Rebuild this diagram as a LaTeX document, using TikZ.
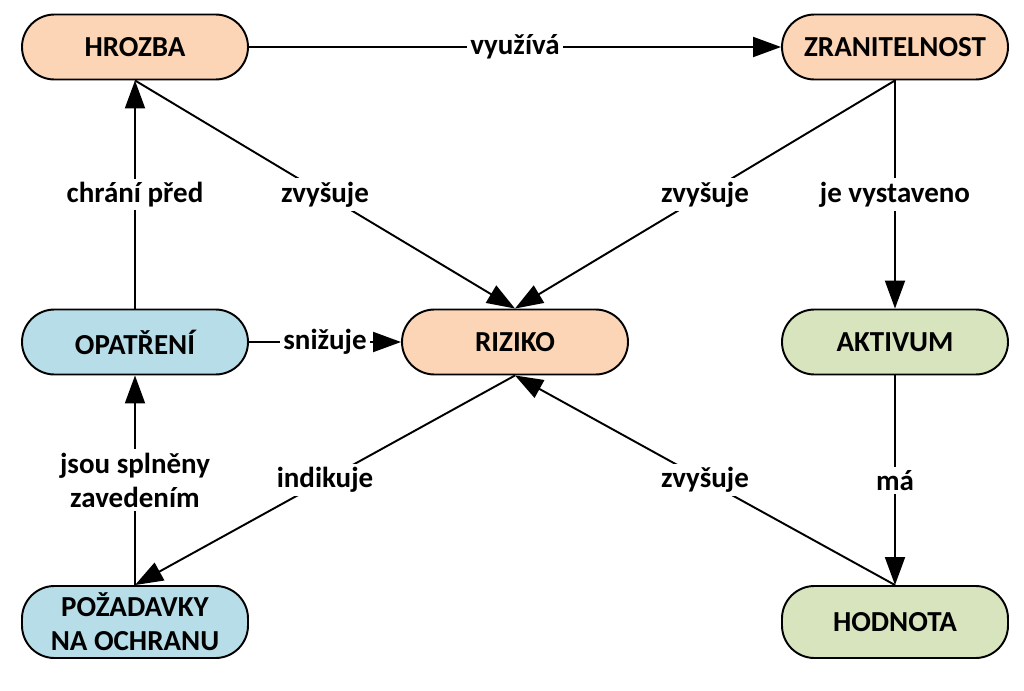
\documentclass[tikz,border=0pt]{standalone}
\usepackage{fontspec}
\setmainfont{Carlito}
\usetikzlibrary{positioning,arrows.meta}
\definecolor{peach}{HTML}{FBD5B5}
\definecolor{lblue}{HTML}{B7DDE8}
\definecolor{lgreen}{HTML}{D7E4BD}

\begin{document}
\begin{tikzpicture}[on grid, node distance=5.9cm and 7.6cm,
    box/.style={draw, line width=1.1pt, rounded corners=0.65cm, minimum width=4.52cm,
      minimum height=1.3cm, align=center, font=\bfseries\fontsize{16.5}{19.5}\selectfont},
    lbl/.style={fill=white, inner sep=2pt, align=center, font=\bfseries\fontsize{16.5}{19.5}\selectfont},
    arr/.style={-{Triangle[length=0.56cm,width=0.4cm]}, line width=1.1pt}]
    \useasboundingbox (0,0) rectangle (20.48,-13.82);
    \node [box, fill=peach] (H) at (2.7,-0.94) {HROZBA};
    \node [box, fill=lblue, below=of H] (O) {OPATŘENÍ};
    \node [box, fill=peach, right=of O] (R) {RIZIKO};
    \node [box, fill=lgreen, right=of R] (A) {AKTIVUM};
    \node [box, fill=peach, above=of A] (Z) {ZRANITELNOST};
    \node [box, fill=lblue, minimum height=1.44cm, below=5.6cm of O] (P) {POŽADAVKY\\NA OCHRANU};
    \node [box, fill=lgreen, minimum height=1.44cm, below=5.6cm of A] (V) {HODNOTA};

    \draw [arr] (H) -- node [lbl] {využívá} (Z);
    \draw [arr] (H.south) -- node [lbl] {zvyšuje} (R.north);
    \draw [arr] (Z.south) -- node [lbl] {zvyšuje} (R.north);
    \draw [arr] (Z) -- node [lbl] {je vystaveno} (A);
    \draw [arr] (O) -- node [lbl] {chrání před} (H);
    \draw [arr] (O) -- node [lbl] {snižuje} (R);
    \draw [arr] (P) -- node [lbl] {jsou splněny\\zavedením} (O);
    \draw [arr] (R.south) -- node [lbl] {indikuje} (P.north);
    \draw [arr] (V.north) -- node [lbl] {zvyšuje} (R.south);
    \draw [arr] (A) -- node [lbl] {má} (V);
\end{tikzpicture}
\end{document}
